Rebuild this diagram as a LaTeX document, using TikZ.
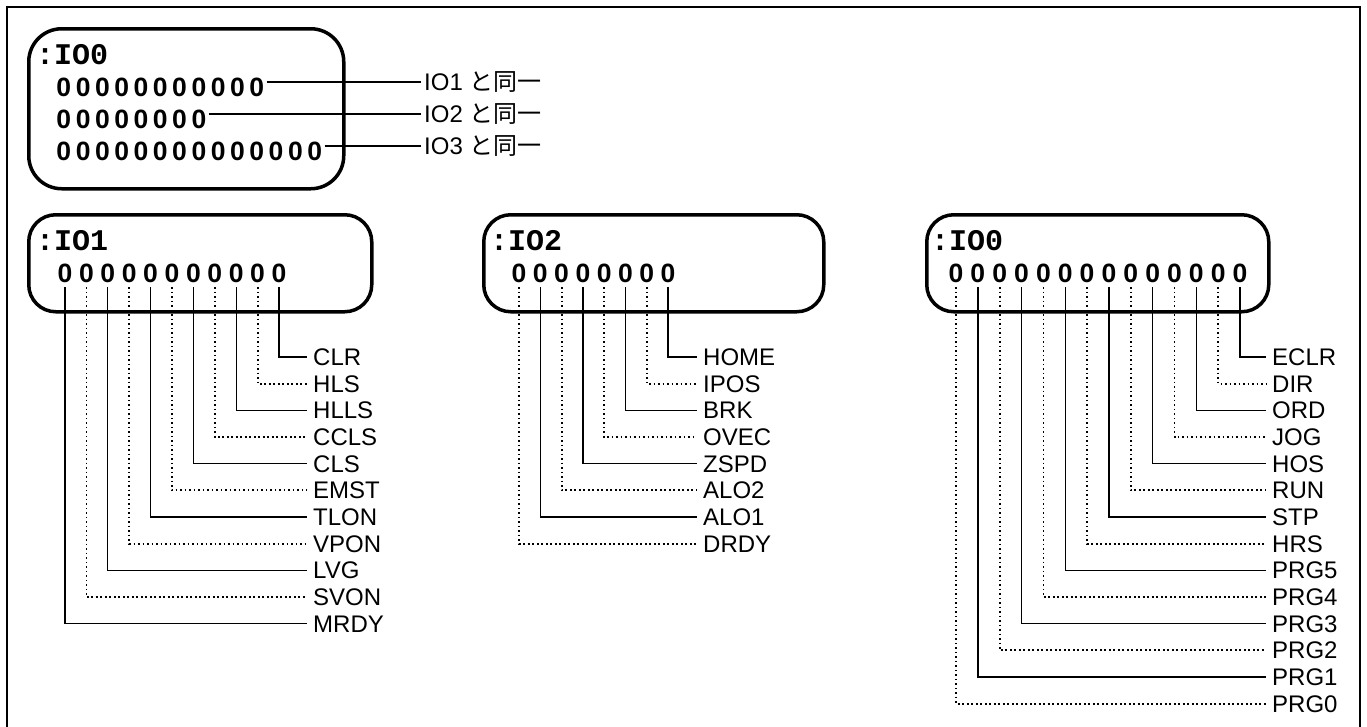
\documentclass[tikz,border=0pt]{standalone}
\usepackage{fontspec}
\setmainfont{Liberation Sans}
\newfontfamily\jpfont{Noto Sans CJK JP}
\newfontfamily\regfont{Liberation Mono}
\usetikzlibrary{calc}
\tikzset{iobox/.style={draw, line width=3.5pt, rounded corners=27pt, inner sep=0pt, anchor=north west},
  ttl/.style={font={\regfont\bfseries\fontsize{30}{32}\selectfont}, inner sep=0pt, anchor=base west},
  bit/.style={font={\bfseries\fontsize{26.5}{30}\selectfont}, inner sep=0pt, text depth=0pt, anchor=south},
  sig/.style={anchor=west, font={\fontsize{24}{28}\selectfont}, inner xsep=6pt, inner ysep=0pt, text height=17.2pt, text depth=0pt},
  solidln/.style={line width=1.3pt},
  dotln/.style={line width=1.8pt, dash pattern=on 1.8pt off 2.7pt}}
\newcommand{\zrow}[1]{\foreach \zz in {1,...,#1}{\makebox[19.3pt]{0}}}

\begin{document}
\begin{tikzpicture}[x=1pt, y=-1pt]
  \useasboundingbox (0,0) rectangle (1367,726);
  \draw[line width=2.2pt] (7,7) rectangle (1360,730);
  % IO0 summary
  \node[iobox, minimum width=315pt, minimum height=160pt, rounded corners=33pt] (sbox) at (27,27) {};
  \node[ttl] (stitle) at (36,64) {:IO0};
  \foreach \n/\len/\yb in {1/11/96, 2/8/128, 3/14/160} {
    \node[bit, anchor=base west, text height=28pt] (row\n) at (54,\yb) {\zrow{\len}};
    \node[sig, inner xsep=3pt] (same\n) at (421,\yb-14) {IO\n\ {\jpfont と同一}};
    \draw[solidln] (row\n.east) -- (same\n.west);
  }
  % IO1 fields
  \node[iobox, minimum width=343pt, minimum height=97pt] (box1) at (27,213) {};
  \node[ttl] (title1) at (36,250) {:IO1};
  \foreach \sname [count=\j from 0] in {CLR,HLS,HLLS,CCLS,CLS,EMST,TLON,VPON,LVG,SVON,MRDY} {
    \pgfmathtruncatemacro\k{10-\j}
    \node[bit] (a\k) at (65+21.4*\k,283) {0};
    \node[sig] (sa\k) at (307,357+26.67*\j) {\sname};
    \ifodd\j \def\lk{dotln}\else\def\lk{solidln}\fi
    \draw[\lk, shorten <=4pt] (a\k.south) |- (sa\k.west);
  }
  % IO2 fields
  \node[iobox, minimum width=340pt, minimum height=97pt] (box2) at (482,213) {};
  \node[ttl] (title2) at (490,250) {:IO2};
  \foreach \sname [count=\j from 0] in {HOME,IPOS,BRK,OVEC,ZSPD,ALO2,ALO1,DRDY} {
    \pgfmathtruncatemacro\k{7-\j}
    \node[bit] (b\k) at (519+21.3*\k,283) {0};
    \node[sig] (sb\k) at (697,357+26.67*\j) {\sname};
    \ifodd\j \def\lk{dotln}\else\def\lk{solidln}\fi
    \draw[\lk, shorten <=4pt] (b\k.south) |- (sb\k.west);
  }
  % IO0 fields
  \node[iobox, minimum width=342pt, minimum height=97pt] (box0) at (925,213) {};
  \node[ttl] (title0) at (931,250) {:IO0};
  \foreach \sname [count=\j from 0] in {ECLR,DIR,ORD,JOG,HOS,RUN,STP,HRS,PRG5,PRG4,PRG3,PRG2,PRG1,PRG0} {
    \pgfmathtruncatemacro\k{13-\j}
    \node[bit] (c\k) at (956+21.85*\k,283) {0};
    \node[sig] (sc\k) at (1266,357+26.67*\j) {\sname};
    \ifodd\j \def\lk{dotln}\else\def\lk{solidln}\fi
    \draw[\lk, shorten <=4pt] (c\k.south) |- (sc\k.west);
  }
\end{tikzpicture}
\end{document}
